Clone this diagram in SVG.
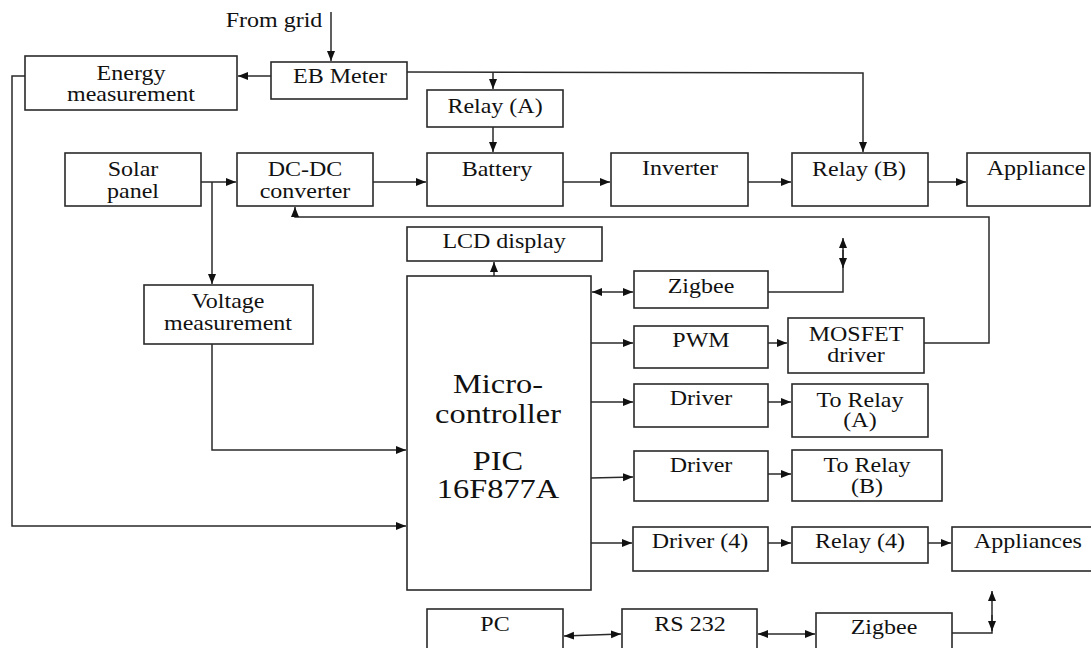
<svg xmlns="http://www.w3.org/2000/svg" width="1091" height="648" viewBox="0 0 1091 648">
<style>
.box{fill:#fff;stroke:#2a2a2a;stroke-width:1.6}
.ln{fill:none;stroke:#2a2a2a;stroke-width:1.5}
.t{font-family:'Liberation Serif','DejaVu Serif',serif;font-size:20px;fill:#111;text-anchor:middle}
.big{font-size:27px}
</style>
<defs>
<marker id="ah" markerUnits="userSpaceOnUse" markerWidth="11" markerHeight="9" refX="10" refY="4" orient="auto-start-reverse" viewBox="0 0 11 9">
<path d="M0,0 L10,4 L0,8 z" fill="#111"/>
</marker>
</defs>
<rect width="1091" height="648" fill="#fff"/>
<g id="connectors">
<path class="ln" d="M331,12 L331,61" marker-end="url(#ah)"/>
<path class="ln" d="M271,76 L238,76" marker-end="url(#ah)"/>
<path class="ln" d="M407,72 L863,73 L863,152" marker-end="url(#ah)"/>
<path class="ln" d="M493,72 L493,89" marker-end="url(#ah)"/>
<path class="ln" d="M493,127 L493,152" marker-end="url(#ah)"/>
<path class="ln" d="M201,182 L236,182" marker-end="url(#ah)"/>
<path class="ln" d="M212,182 L212,284" marker-end="url(#ah)"/>
<path class="ln" d="M373,182 L426,182" marker-end="url(#ah)"/>
<path class="ln" d="M563,182 L610,182" marker-end="url(#ah)"/>
<path class="ln" d="M748,182 L791,182" marker-end="url(#ah)"/>
<path class="ln" d="M928,182 L966,182" marker-end="url(#ah)"/>
<path class="ln" d="M25,76 L12,76 L12,526 L406,526" marker-end="url(#ah)"/>
<path class="ln" d="M212,344 L212,450 L406,450" marker-end="url(#ah)"/>
<path class="ln" d="M494,276 L494,262" marker-end="url(#ah)"/>
<path class="ln" d="M592,292 L633,292" marker-start="url(#ah)" marker-end="url(#ah)"/>
<path class="ln" d="M768,292 L843,292 L843,238" marker-end="url(#ah)"/>
<path class="ln" d="M843,250 L843,268" marker-end="url(#ah)"/>
<path class="ln" d="M591,343 L633,343" marker-end="url(#ah)"/>
<path class="ln" d="M768,343 L787,343" marker-end="url(#ah)"/>
<path class="ln" d="M924,343 L989,343 L989,217 L295,217 L295,207" marker-end="url(#ah)"/>
<path class="ln" d="M591,402 L633,402" marker-end="url(#ah)"/>
<path class="ln" d="M768,402 L791,402" marker-end="url(#ah)"/>
<path class="ln" d="M591,478 L633,477" marker-end="url(#ah)"/>
<path class="ln" d="M768,474 L791,474" marker-end="url(#ah)"/>
<path class="ln" d="M591,543 L632,543" marker-end="url(#ah)"/>
<path class="ln" d="M768,543 L791,543" marker-end="url(#ah)"/>
<path class="ln" d="M928,543 L951,543" marker-end="url(#ah)"/>
<path class="ln" d="M564,636 L621,634" marker-start="url(#ah)" marker-end="url(#ah)"/>
<path class="ln" d="M758,634 L815,634" marker-start="url(#ah)" marker-end="url(#ah)"/>
<path class="ln" d="M952,633 L992,633 L992,591" marker-end="url(#ah)"/>
<path class="ln" d="M992,615 L992,631" marker-end="url(#ah)"/>
</g>
<g font-family="Liberation Serif, DejaVu Serif, serif">
<text class="t" transform="matrix(1.2 0 0 1 274 27)">From grid</text>
<g id="energy"><rect class="box" x="25" y="56" width="212" height="54"/><text class="t" transform="matrix(1.2 0 0 1 131 80)">Energy</text><text class="t" transform="matrix(1.2 0 0 1 131 101)">measurement</text></g>
<g id="ebmeter"><rect class="box" x="271" y="62" width="136" height="37"/><text class="t" transform="matrix(1.2 0 0 1 340 83)">EB Meter</text></g>
<g id="relayA"><rect class="box" x="427" y="90" width="136" height="37"/><text class="t" transform="matrix(1.2 0 0 1 495 113)">Relay (A)</text></g>
<g id="solar"><rect class="box" x="65" y="153" width="136" height="53"/><text class="t" transform="matrix(1.2 0 0 1 133 176)">Solar</text><text class="t" transform="matrix(1.2 0 0 1 133 198)">panel</text></g>
<g id="dcdc"><rect class="box" x="237" y="153" width="136" height="53"/><text class="t" transform="matrix(1.2 0 0 1 305 176)">DC-DC</text><text class="t" transform="matrix(1.2 0 0 1 305 198)">converter</text></g>
<g id="battery"><rect class="box" x="427" y="153" width="136" height="53"/><text class="t" transform="matrix(1.2 0 0 1 497 176)">Battery</text></g>
<g id="inverter"><rect class="box" x="611" y="153" width="137" height="53"/><text class="t" transform="matrix(1.2 0 0 1 680 175)">Inverter</text></g>
<g id="relayB"><rect class="box" x="792" y="153" width="136" height="53"/><text class="t" transform="matrix(1.2 0 0 1 859 176)">Relay (B)</text></g>
<g id="appliance"><rect class="box" x="967" y="153" width="123" height="53"/><text class="t" transform="matrix(1.2 0 0 1 1036 175)">Appliance</text></g>
<g id="lcd"><rect class="box" x="407" y="227" width="195" height="34"/><text class="t" transform="matrix(1.2 0 0 1 504 248)">LCD display</text></g>
<g id="micro"><rect class="box" x="407" y="276" width="184" height="314"/><text class="t big" transform="matrix(1.2 0 0 1 498 393)">Micro-</text><text class="t big" transform="matrix(1.2 0 0 1 498 423)">controller</text><text class="t big" transform="matrix(1.2 0 0 1 498 470)">PIC</text><text class="t big" transform="matrix(1.2 0 0 1 498 498)">16F877A</text></g>
<g id="voltage"><rect class="box" x="144" y="285" width="169" height="59"/><text class="t" transform="matrix(1.2 0 0 1 228 308)">Voltage</text><text class="t" transform="matrix(1.2 0 0 1 228 330)">measurement</text></g>
<g id="zigbee1"><rect class="box" x="634" y="271" width="134" height="37"/><text class="t" transform="matrix(1.2 0 0 1 701 293)">Zigbee</text></g>
<g id="pwm"><rect class="box" x="634" y="326" width="134" height="42"/><text class="t" transform="matrix(1.2 0 0 1 701 347)">PWM</text></g>
<g id="mosfet"><rect class="box" x="788" y="318" width="136" height="55"/><text class="t" transform="matrix(1.2 0 0 1 856 341)">MOSFET</text><text class="t" transform="matrix(1.2 0 0 1 856 362)">driver</text></g>
<g id="driver1"><rect class="box" x="634" y="384" width="134" height="43"/><text class="t" transform="matrix(1.2 0 0 1 701 405)">Driver</text></g>
<g id="torelayA"><rect class="box" x="792" y="384" width="136" height="53"/><text class="t" transform="matrix(1.2 0 0 1 860 407)">To Relay</text><text class="t" transform="matrix(1.2 0 0 1 860 427)">(A)</text></g>
<g id="driver2"><rect class="box" x="634" y="451" width="134" height="50"/><text class="t" transform="matrix(1.2 0 0 1 701 472)">Driver</text></g>
<g id="torelayB"><rect class="box" x="792" y="450" width="150" height="51"/><text class="t" transform="matrix(1.2 0 0 1 867 472)">To Relay</text><text class="t" transform="matrix(1.2 0 0 1 867 493)">(B)</text></g>
<g id="driver4"><rect class="box" x="633" y="527" width="135" height="44"/><text class="t" transform="matrix(1.2 0 0 1 700 548)">Driver (4)</text></g>
<g id="relay4"><rect class="box" x="792" y="527" width="136" height="36"/><text class="t" transform="matrix(1.2 0 0 1 860 548)">Relay (4)</text></g>
<g id="appliances"><rect class="box" x="952" y="527" width="145" height="44"/><text class="t" transform="matrix(1.2 0 0 1 1028 548)">Appliances</text></g>
<g id="pc"><rect class="box" x="427" y="609" width="136" height="50"/><text class="t" transform="matrix(1.2 0 0 1 495 631)">PC</text></g>
<g id="rs232"><rect class="box" x="622" y="609" width="135" height="50"/><text class="t" transform="matrix(1.2 0 0 1 690 631)">RS 232</text></g>
<g id="zigbee2"><rect class="box" x="816" y="613" width="136" height="50"/><text class="t" transform="matrix(1.2 0 0 1 884 634)">Zigbee</text></g>
</g>
</svg>
